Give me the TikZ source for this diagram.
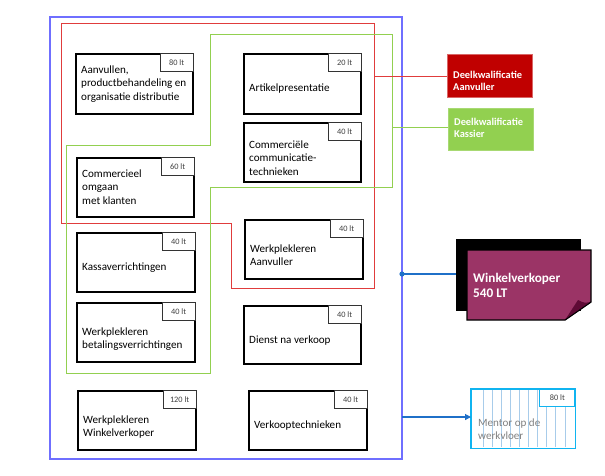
\documentclass[tikz,border=0pt]{standalone}
\usepackage{fontspec}
\setmainfont{Carlito}
\usetikzlibrary{arrows.meta}
\definecolor{outblue}{HTML}{6F6FFF}
\definecolor{lred}{HTML}{E03C3C}
\definecolor{dred}{HTML}{C00000}
\definecolor{lgreen}{HTML}{92D050}
\definecolor{conblue}{HTML}{1F70C8}
\definecolor{plum}{HTML}{9B3466}
\definecolor{darkplum}{HTML}{5E0A35}
\definecolor{cyanb}{HTML}{10B4F0}
\definecolor{stripe}{HTML}{A8CCEA}
\tikzset{
  modbox/.style={draw=black, line width=1.5pt, fill=white, rectangle, anchor=north west, inner sep=0pt},
  tagbox/.style={draw=black!80, line width=0.8pt, fill=white, rectangle, anchor=north east, minimum width=33pt, minimum height=18pt, inner sep=0pt, text=black!75, font=\fontsize{8.3}{9}\selectfont},
  txt/.style={anchor=west, align=left, inner sep=0pt, font=\fontsize{11.1}{13.6}\selectfont},
  dkbox/.style={rectangle, anchor=north west, inner sep=0pt},
  dktxt/.style={anchor=west, align=left, inner sep=0pt, text=white, font=\fontsize{10.4}{12}\selectfont\bfseries},
  conn/.style={draw=conblue, line width=1.2pt}
}
\begin{document}
\begin{tikzpicture}[x=1pt,y=-1pt]
\useasboundingbox (0,0) rectangle (605,475);
% outer blue frame
\draw[outblue, line width=1.3pt] (50,17) rectangle (402,459);
\coordinate (frameR1) at (402,274);
\coordinate (frameR2) at (402,417);
% red group
\draw[lred, line width=1pt] (61,23) -- (374,23) -- (374,288) -- (231,288) -- (231,223) -- (61,223) -- cycle;
% green group
\draw[lgreen, line width=1pt] (210,34) -- (392,34) -- (392,187) -- (210,187) -- (210,373) -- (66,373) -- (66,145) -- (210,145) -- cycle;
\coordinate (redR) at (374,76);
\coordinate (greenR) at (392,127);

% modules
\node[modbox, minimum width=117pt, minimum height=60pt] (b1) at (75,53) {};
\node[tagbox] (t1) at (b1.north east) {80 lt};
\node[txt] (x1) at (81,84) {Aanvullen,\\productbehandeling en\\organisatie distributie};

\node[modbox, minimum width=117pt, minimum height=60pt] (b2) at (243,53) {};
\node[tagbox] (t2) at (b2.north east) {20 lt};
\node[txt] (x2) at (249,89) {Artikelpresentatie};

\node[modbox, minimum width=117pt, minimum height=59pt] (b3) at (243,122) {};
\node[tagbox] (t3) at (b3.north east) {40 lt};
\node[txt] (x3) at (249,158) {Commerciële\\communicatie-\\technieken};

\node[modbox, minimum width=117pt, minimum height=59pt] (b4) at (76,157) {};
\node[tagbox] (t4) at (b4.north east) {60 lt};
\node[txt] (x4) at (82,187) {Commercieel\\omgaan\\met klanten};

\node[modbox, minimum width=118pt, minimum height=59pt] (b5) at (76,232) {};
\node[tagbox] (t5) at (b5.north east) {40 lt};
\node[txt] (x5) at (82,268) {Kassaverrichtingen};

\node[modbox, minimum width=118pt, minimum height=59pt] (b6) at (76,302) {};
\node[tagbox] (t6) at (b6.north east) {40 lt};
\node[txt] (x6) at (82,339) {Werkplekleren\\betalingsverrichtingen};

\node[modbox, minimum width=118pt, minimum height=59pt] (b7) at (244,219) {};
\node[tagbox] (t7) at (b7.north east) {40 lt};
\node[txt] (x7) at (250,255) {Werkplekleren\\Aanvuller};

\node[modbox, minimum width=117pt, minimum height=58pt] (b8) at (243,305) {};
\node[tagbox] (t8) at (b8.north east) {40 lt};
\node[txt] (x8) at (249,341) {Dienst na verkoop};

\node[modbox, minimum width=118pt, minimum height=59pt] (b9) at (77,390) {};
\node[tagbox] (t9) at (b9.north east) {120 lt};
\node[txt] (x9) at (83,427) {Werkplekleren\\Winkelverkoper};

\node[modbox, minimum width=118pt, minimum height=59pt] (b10) at (248,390) {};
\node[tagbox] (t10) at (b10.north east) {40 lt};
\node[txt] (x10) at (254,426) {Verkooptechnieken};

% Deelkwalificaties
\node[dkbox, fill=dred, draw=dred!60, minimum width=85pt, minimum height=43pt] (dka) at (447,54) {};
\node[dktxt] (dkat) at (453,81) {Deelkwalificatie\\Aanvuller};
\node[dkbox, fill=lgreen, draw=lgreen!80, minimum width=85pt, minimum height=42pt] (dkk) at (448,108) {};
\node[dktxt] (dkkt) at (454,128) {Deelkwalificatie\\Kassier};
\draw[lred, line width=0.8pt] (redR) -- (dka.west |- redR);
\draw[lgreen, line width=0.8pt] (greenR) -- (dkk.west |- greenR);

% Winkelverkoper
\node[dkbox, fill=black, minimum width=125pt, minimum height=72pt] (wkback) at (456,239) {};
\draw[black, line width=1.2pt, fill=plum] (467,250) -- (591,250) -- (591,302) -- (565,320) -- (467,320) -- cycle;
\fill[darkplum] (565,320) .. controls (572,310) .. (578,300) .. controls (584,303) .. (591,302) -- cycle;
\draw[black, line width=0.8pt] (565,320) -- (591,302);
\node[anchor=west, align=left, inner sep=0pt, text=white, font=\fontsize{13.2}{15}\selectfont\bfseries] (wkt) at (473,285) {Winkelverkoper\\540 LT};
\fill[conblue] (frameR1) circle (2.6pt);
\draw[conn] (frameR1) -- (wkback.west |- frameR1);

% Mentor
\node[dkbox, minimum width=104pt, minimum height=59pt] (men) at (471,389) {};
\foreach \sx in {483,492,501,510,519,528,537,546,555,565} {
  \draw[stripe, line width=0.8pt] (\sx,390) -- (\sx,447);
}
\draw[cyanb, line width=1.6pt] (men.north west) rectangle (men.south east);
\node[tagbox, draw=cyanb, line width=1pt, minimum width=35pt, minimum height=17pt] (t11) at (men.north east) {80 lt};
\node[txt, text=black!50] (x11) at (478,429) {Mentor op de\\werkvloer};
\draw[conn, -{Triangle[length=6pt,width=6pt]}] (frameR2) -- (men.west |- frameR2);
\end{tikzpicture}
\end{document}
